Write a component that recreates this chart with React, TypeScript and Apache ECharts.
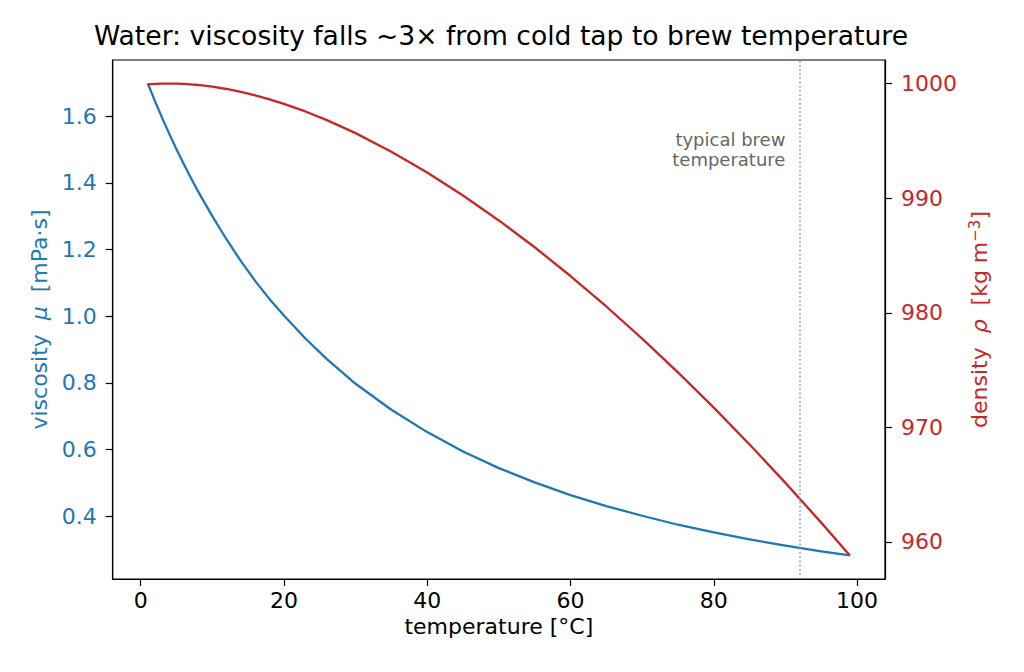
import React, { useEffect, useRef } from "react";
import * as echarts from "echarts";

const temperatures = [1, 2, 3, 4, 5, 6, 7, 8, 10, 12, 14, 16, 18, 20, 23, 26, 30, 35, 40, 45, 50, 55, 60, 65, 70, 75, 80, 85, 90, 95, 99];
const viscosity = [1.698, 1.645, 1.595, 1.547, 1.501, 1.457, 1.415, 1.375, 1.300, 1.230, 1.165, 1.105, 1.051, 1.002, 0.933, 0.871, 0.797, 0.719, 0.652, 0.594, 0.544, 0.501, 0.463, 0.430, 0.401, 0.374, 0.351, 0.330, 0.311, 0.294, 0.282];
const density = [999.93, 999.97, 999.99, 1000.0, 999.99, 999.97, 999.93, 999.88, 999.73, 999.53, 999.27, 998.97, 998.62, 998.23, 997.57, 996.81, 995.68, 994.06, 992.25, 990.24, 988.06, 985.72, 983.21, 980.55, 977.75, 974.80, 971.72, 968.51, 965.16, 961.69, 958.83];

const xTicks = [0, 20, 40, 60, 80, 100];
const muTicks = [0.4, 0.6, 0.8, 1.0, 1.2, 1.4, 1.6];
const rhoTicks = [960, 970, 980, 990, 1000];

const brewTemperature = 92;
const noteT = 90;
const noteMu = 1.5;

const BLUE = "#1f77b4";
const RED = "#c62828";
const FONT = "DejaVu Sans";

export default function App() {
  const ref = useRef<HTMLDivElement>(null);
  useEffect(() => {
    if (!ref.current) return;
    const chart = echarts.init(ref.current, undefined, { renderer: "svg" });
    const tickStyle = { show: true, inside: false, length: 7, lineStyle: { color: "#000", width: 1.2 } };
    chart.setOption({
      animation: false,
      backgroundColor: "#fff",
      textStyle: { fontFamily: FONT },
      title: {
        text: "Water: viscosity falls ~3× from cold tap to brew temperature",
        left: 496,
        textAlign: "center",
        top: 17,
        textStyle: { fontFamily: FONT, fontSize: 26.6, fontWeight: "normal", color: "#000" },
      },
      grid: {
        left: 112.7,
        right: 139,
        top: 60,
        bottom: 93,
        show: true,
        borderColor: "#000",
        borderWidth: 1.2,
        backgroundColor: "transparent",
      },
      xAxis: {
        type: "value",
        min: -3.9,
        max: 103.9,
        name: "temperature [°C]",
        nameLocation: "middle",
        nameGap: 33,
        nameTextStyle: { fontFamily: FONT, fontSize: 22, color: "#000" },
        axisLine: { show: true, onZero: false, lineStyle: { color: "#000", width: 1.2 } },
        axisTick: { ...tickStyle, customValues: xTicks },
        axisLabel: { customValues: xTicks, margin: 10, fontFamily: FONT, fontSize: 22, color: "#000" },
        splitLine: { show: false },
      },
      yAxis: [
        {
          type: "value",
          position: "left",
          min: 0.2112,
          max: 1.7686,
          name: "{a|viscosity  }{b|μ}{a|  [mPa·s]}",
          nameLocation: "middle",
          nameRotate: 90,
          nameGap: 62,
          nameTextStyle: {
            color: BLUE,
            fontFamily: FONT,
            fontSize: 22,
            rich: {
              a: { color: BLUE, fontFamily: FONT, fontSize: 22 },
              b: { color: BLUE, fontFamily: FONT, fontSize: 22, fontStyle: "italic" },
            },
          },
          axisLine: { show: true, onZero: false, lineStyle: { color: "#000", width: 1.2 } },
          axisTick: { ...tickStyle, customValues: muTicks },
          axisLabel: {
            customValues: muTicks,
            margin: 16,
            fontFamily: FONT,
            fontSize: 22,
            color: BLUE,
            formatter: (v: number) => v.toFixed(1),
          },
          splitLine: { show: false },
        },
        {
          type: "value",
          position: "right",
          min: 956.77,
          max: 1002.06,
          name: "{a|density  }{b|ρ}{a|  [kg m}{c|−3}{a|]}",
          nameLocation: "middle",
          nameRotate: 90,
          nameGap: 78,
          nameTextStyle: {
            color: RED,
            fontFamily: FONT,
            fontSize: 22,
            rich: {
              a: { color: RED, fontFamily: FONT, fontSize: 22 },
              b: { color: RED, fontFamily: FONT, fontSize: 22, fontStyle: "italic" },
              c: { color: RED, fontFamily: FONT, fontSize: 15, verticalAlign: "top", padding: [0, 0, 8, 0] },
            },
          },
          axisLine: { show: true, onZero: false, lineStyle: { color: "#000", width: 1.2 } },
          axisTick: { ...tickStyle, customValues: rhoTicks },
          axisLabel: {
            customValues: rhoTicks,
            margin: 16,
            fontFamily: FONT,
            fontSize: 22,
            color: RED,
            formatter: (v: number) => String(Math.round(v)),
          },
          splitLine: { show: false },
        },
      ],
      series: [
        {
          type: "line",
          name: "viscosity",
          yAxisIndex: 0,
          data: temperatures.map((t, i) => [t, viscosity[i]]),
          showSymbol: false,
          symbol: "none",
          smooth: false,
          lineStyle: { color: BLUE, width: 2.3, join: "round" },
          itemStyle: { color: BLUE },
          markLine: {
            silent: true,
            symbol: "none",
            label: { show: false },
            lineStyle: { color: "#999", width: 1.6, type: [1.6, 2.6] },
            data: [{ xAxis: brewTemperature }],
          },
          markPoint: {
            silent: true,
            symbol: "circle",
            symbolSize: 0,
            itemStyle: { color: "transparent" },
            label: {
              show: true,
              position: [0, 0],
              align: "right",
              verticalAlign: "middle",
              formatter: "typical brew\ntemperature",
              color: "#666",
              fontFamily: FONT,
              fontSize: 18,
              lineHeight: 20,
            },
            data: [{ coord: [noteT, noteMu] }],
          },
        },
        {
          type: "line",
          name: "density",
          yAxisIndex: 1,
          data: temperatures.map((t, i) => [t, density[i]]),
          showSymbol: false,
          symbol: "none",
          smooth: false,
          lineStyle: { color: RED, width: 2.3, join: "round" },
          itemStyle: { color: RED },
        },
      ],
    });
    return () => chart.dispose();
  }, []);
  return <div ref={ref} style={{ position: "fixed", left: 0, top: 0, width: 1024, height: 672 }} />;
}
